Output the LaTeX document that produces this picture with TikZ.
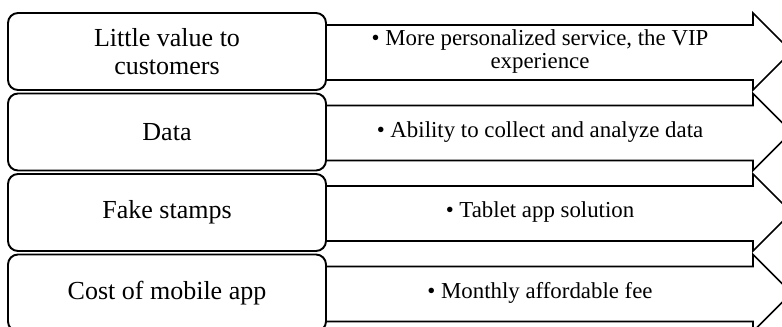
\documentclass[tikz,border=0pt]{standalone}
\usepackage{fontspec}
\setmainfont{Liberation Serif}
\begin{document}
\begin{tikzpicture}[
  probbox/.style={draw,line width=1.1pt,fill=white,rounded corners=0.2cm,minimum width=6.36cm,minimum height=1.54cm,inner sep=0pt,align=center,font=\fontsize{14.8}{16}\selectfont},
  solarrow/.style={draw,line width=0.9pt,fill=white,line join=miter},
  soltext/.style={align=center,font=\fontsize{13}{12.6}\selectfont}]
\useasboundingbox (0,0) rectangle (15.64,6.52);
\clip (0,0) rectangle (15.64,6.52);
%solution arrows
\draw[solarrow] (6.4,6.02) -- (15.06,6.02) -- (15.06,6.26) -- (15.83,5.49) -- (15.06,4.72) -- (15.06,4.92) -- (6.4,4.92) -- cycle;
\draw[solarrow] (6.4,4.41) -- (15.06,4.41) -- (15.06,4.65) -- (15.83,3.88) -- (15.06,3.11) -- (15.06,3.31) -- (6.4,3.31) -- cycle;
\draw[solarrow] (6.4,2.80) -- (15.06,2.80) -- (15.06,3.04) -- (15.83,2.27) -- (15.06,1.50) -- (15.06,1.70) -- (6.4,1.70) -- cycle;
\draw[solarrow] (6.4,1.19) -- (15.06,1.19) -- (15.06,1.43) -- (15.83,0.66) -- (15.06,-0.11) -- (15.06,0.09) -- (6.4,0.09) -- cycle;
%solution texts
\node[soltext] (sol1) at (10.8,5.49) {\textbullet{} More personalized service, the VIP\\experience};
\node[soltext] (sol2) at (10.8,3.88) {\textbullet{} Ability to collect and analyze data};
\node[soltext] (sol3) at (10.8,2.27) {\textbullet{} Tablet app solution};
\node[soltext] (sol4) at (10.8,0.66) {\textbullet{} Monthly affordable fee};
%problem boxes
\node[probbox] (prob1) at (3.34,5.49) {Little value to\\customers};
\node[probbox] (prob2) at (3.34,3.88) {Data};
\node[probbox] (prob3) at (3.34,2.27) {Fake stamps};
\node[probbox] (prob4) at (3.34,0.66) {Cost of mobile app};
\end{tikzpicture}
\end{document}
